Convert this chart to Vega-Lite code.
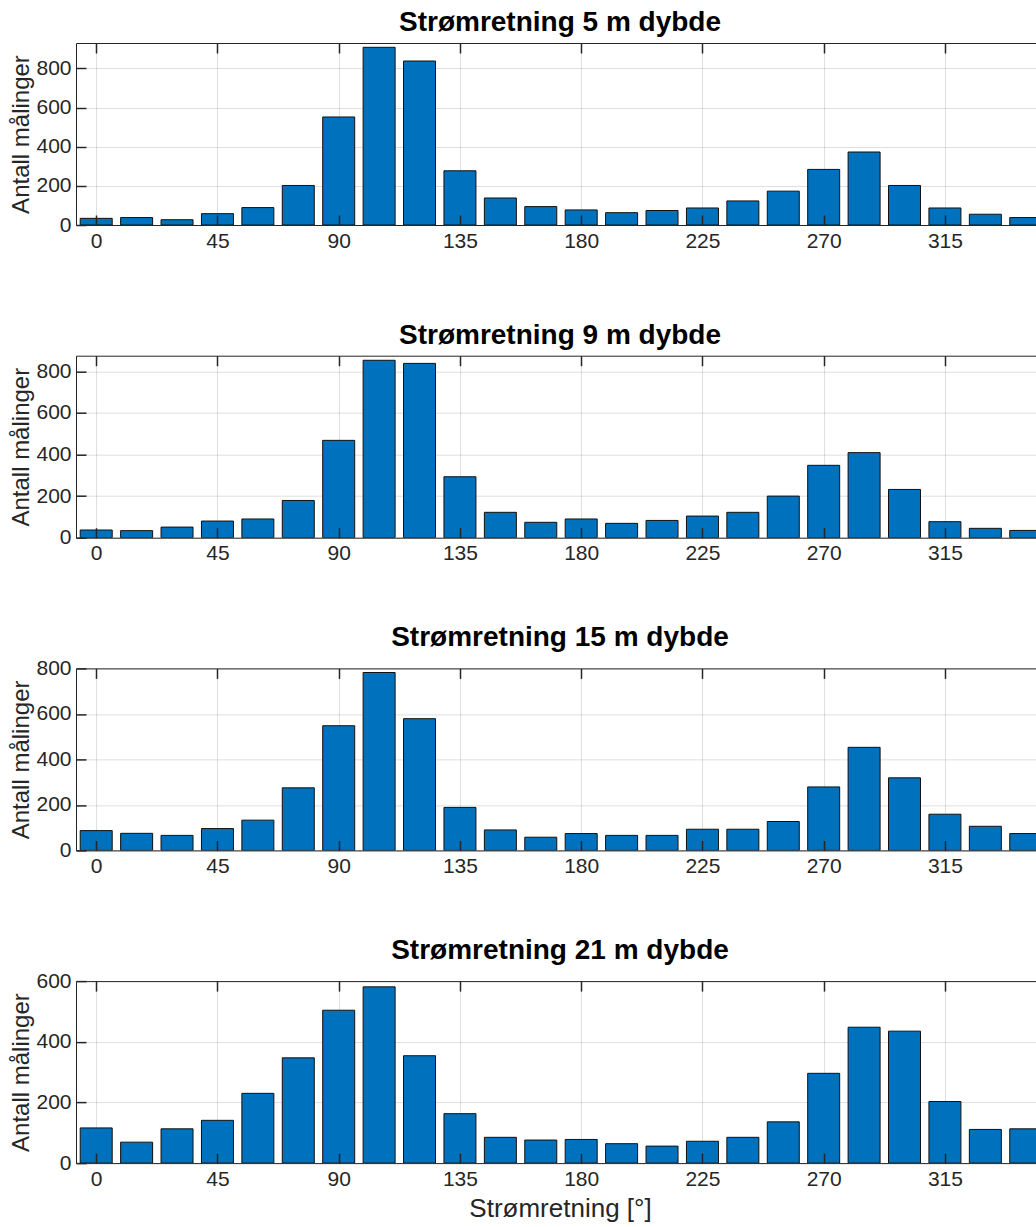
{
  "$schema": "https://vega.github.io/schema/vega-lite/v6.json",
  "padding": {"left": 9, "top": 9, "right": 0, "bottom": 0},
  "bounds": "flush",
  "spacing": 130.7,
  "config": {
    "font": "Liberation Sans",
    "view": {"stroke": null},
    "axis": {
      "labelFontSize": 21, "labelColor": "#262626", "labelOverlap": false, "labelFlush": false,
      "titleFontSize": 24, "titleFontWeight": "normal", "titleColor": "#262626",
      "domainColor": "#262626", "domainWidth": 1, "tickColor": "#262626", "tickWidth": 1.5,
      "gridColor": "#262626", "gridOpacity": 0.15, "gridWidth": 1
    },
    "title": {"fontSize": 28, "fontWeight": "bold", "color": "#000000", "offset": 5, "dx": 4}
  },
  "data": {"values": [
    {"depth": 5, "dir": 0, "n": 34}, {"depth": 5, "dir": 15, "n": 38}, {"depth": 5, "dir": 30, "n": 27}, {"depth": 5, "dir": 45, "n": 58},
    {"depth": 5, "dir": 60, "n": 89}, {"depth": 5, "dir": 75, "n": 202}, {"depth": 5, "dir": 90, "n": 552}, {"depth": 5, "dir": 105, "n": 908},
    {"depth": 5, "dir": 120, "n": 838}, {"depth": 5, "dir": 135, "n": 277}, {"depth": 5, "dir": 150, "n": 138}, {"depth": 5, "dir": 165, "n": 94},
    {"depth": 5, "dir": 180, "n": 77}, {"depth": 5, "dir": 195, "n": 63}, {"depth": 5, "dir": 210, "n": 74}, {"depth": 5, "dir": 225, "n": 87},
    {"depth": 5, "dir": 240, "n": 123}, {"depth": 5, "dir": 255, "n": 173}, {"depth": 5, "dir": 270, "n": 284}, {"depth": 5, "dir": 285, "n": 373},
    {"depth": 5, "dir": 300, "n": 202}, {"depth": 5, "dir": 315, "n": 87}, {"depth": 5, "dir": 330, "n": 55}, {"depth": 5, "dir": 345, "n": 38},
    {"depth": 9, "dir": 0, "n": 37}, {"depth": 9, "dir": 15, "n": 34}, {"depth": 9, "dir": 30, "n": 51}, {"depth": 9, "dir": 45, "n": 80},
    {"depth": 9, "dir": 60, "n": 90}, {"depth": 9, "dir": 75, "n": 179}, {"depth": 9, "dir": 90, "n": 468}, {"depth": 9, "dir": 105, "n": 853},
    {"depth": 9, "dir": 120, "n": 838}, {"depth": 9, "dir": 135, "n": 293}, {"depth": 9, "dir": 150, "n": 122}, {"depth": 9, "dir": 165, "n": 74},
    {"depth": 9, "dir": 180, "n": 90}, {"depth": 9, "dir": 195, "n": 69}, {"depth": 9, "dir": 210, "n": 83}, {"depth": 9, "dir": 225, "n": 104},
    {"depth": 9, "dir": 240, "n": 122}, {"depth": 9, "dir": 255, "n": 200}, {"depth": 9, "dir": 270, "n": 348}, {"depth": 9, "dir": 285, "n": 409},
    {"depth": 9, "dir": 300, "n": 232}, {"depth": 9, "dir": 315, "n": 77}, {"depth": 9, "dir": 330, "n": 45}, {"depth": 9, "dir": 345, "n": 35},
    {"depth": 15, "dir": 0, "n": 87}, {"depth": 15, "dir": 15, "n": 75}, {"depth": 15, "dir": 30, "n": 66}, {"depth": 15, "dir": 45, "n": 96},
    {"depth": 15, "dir": 60, "n": 133}, {"depth": 15, "dir": 75, "n": 275}, {"depth": 15, "dir": 90, "n": 548}, {"depth": 15, "dir": 105, "n": 782},
    {"depth": 15, "dir": 120, "n": 579}, {"depth": 15, "dir": 135, "n": 189}, {"depth": 15, "dir": 150, "n": 90}, {"depth": 15, "dir": 165, "n": 58},
    {"depth": 15, "dir": 180, "n": 74}, {"depth": 15, "dir": 195, "n": 66}, {"depth": 15, "dir": 210, "n": 66}, {"depth": 15, "dir": 225, "n": 93},
    {"depth": 15, "dir": 240, "n": 93}, {"depth": 15, "dir": 255, "n": 127}, {"depth": 15, "dir": 270, "n": 279}, {"depth": 15, "dir": 285, "n": 453},
    {"depth": 15, "dir": 300, "n": 319}, {"depth": 15, "dir": 315, "n": 159}, {"depth": 15, "dir": 330, "n": 106}, {"depth": 15, "dir": 345, "n": 74},
    {"depth": 21, "dir": 0, "n": 116}, {"depth": 21, "dir": 15, "n": 69}, {"depth": 21, "dir": 30, "n": 113}, {"depth": 21, "dir": 45, "n": 141},
    {"depth": 21, "dir": 60, "n": 230}, {"depth": 21, "dir": 75, "n": 347}, {"depth": 21, "dir": 90, "n": 504}, {"depth": 21, "dir": 105, "n": 581},
    {"depth": 21, "dir": 120, "n": 354}, {"depth": 21, "dir": 135, "n": 163}, {"depth": 21, "dir": 150, "n": 85}, {"depth": 21, "dir": 165, "n": 76},
    {"depth": 21, "dir": 180, "n": 78}, {"depth": 21, "dir": 195, "n": 64}, {"depth": 21, "dir": 210, "n": 56}, {"depth": 21, "dir": 225, "n": 72},
    {"depth": 21, "dir": 240, "n": 85}, {"depth": 21, "dir": 255, "n": 136}, {"depth": 21, "dir": 270, "n": 296}, {"depth": 21, "dir": 285, "n": 448},
    {"depth": 21, "dir": 300, "n": 435}, {"depth": 21, "dir": 315, "n": 203}, {"depth": 21, "dir": 330, "n": 111}, {"depth": 21, "dir": 345, "n": 113}
  ]},
  "vconcat": [
    {
      "width": 960, "height": 182,
      "title": "Strømretning 5 m dybde",
      "transform": [{"filter": "datum.depth == 5"}],
      "resolve": {"axis": {"x": "independent", "y": "independent"}},
      "layer": [
        {"mark": {"type": "bar", "clip": true, "width": 32, "fill": "#0072BD", "stroke": "#111111", "strokeWidth": 1},
         "encoding": {
           "x": {"field": "dir", "type": "quantitative", "scale": {"domain": [-7.5, 348.8], "nice": false, "zero": false, "padding": 0},
                 "axis": {"orient": "bottom", "values": [0, 45, 90, 135, 180, 225, 270, 315], "grid": true, "ticks": false, "labelPadding": 5, "domain": true, "title": null, "zindex": 0}},
           "y": {"field": "n", "type": "quantitative", "scale": {"domain": [0, 930], "nice": false},
                 "axis": {"orient": "left", "values": [0, 200, 400, 600, 800], "grid": true, "ticks": false, "labelPadding": 5, "domain": true, "title": "Antall målinger", "titlePadding": 2, "zindex": 0}}
         }},
        {"mark": {"type": "bar", "clip": true, "width": 32, "opacity": 0},
         "encoding": {
           "x": {"field": "dir", "type": "quantitative", "axis": {"orient": "bottom", "values": [0, 45, 90, 135, 180, 225, 270, 315], "grid": false, "labels": false, "domain": false, "ticks": true, "tickSize": -10, "title": null, "zindex": 1}},
           "y": {"field": "n", "type": "quantitative", "axis": {"orient": "left", "values": [0, 200, 400, 600, 800], "grid": false, "labels": false, "domain": false, "ticks": true, "tickSize": -10, "title": null, "zindex": 1}}
         }},
        {"mark": {"type": "bar", "clip": true, "width": 32, "opacity": 0},
         "encoding": {
           "x": {"field": "dir", "type": "quantitative", "axis": {"orient": "top", "values": [0, 45, 90, 135, 180, 225, 270, 315], "grid": false, "labels": false, "domain": true, "ticks": true, "tickSize": -10, "title": null, "zindex": 1}},
           "y": {"field": "n", "type": "quantitative", "axis": null}
         }}
      ]
    },
    {
      "width": 960, "height": 182,
      "title": "Strømretning 9 m dybde",
      "transform": [{"filter": "datum.depth == 9"}],
      "resolve": {"axis": {"x": "independent", "y": "independent"}},
      "layer": [
        {"mark": {"type": "bar", "clip": true, "width": 32, "fill": "#0072BD", "stroke": "#111111", "strokeWidth": 1},
         "encoding": {
           "x": {"field": "dir", "type": "quantitative", "scale": {"domain": [-7.5, 348.8], "nice": false, "zero": false, "padding": 0},
                 "axis": {"orient": "bottom", "values": [0, 45, 90, 135, 180, 225, 270, 315], "grid": true, "ticks": false, "labelPadding": 5, "domain": true, "title": null, "zindex": 0}},
           "y": {"field": "n", "type": "quantitative", "scale": {"domain": [0, 875], "nice": false},
                 "axis": {"orient": "left", "values": [0, 200, 400, 600, 800], "grid": true, "ticks": false, "labelPadding": 5, "domain": true, "title": "Antall målinger", "titlePadding": 2, "zindex": 0}}
         }},
        {"mark": {"type": "bar", "clip": true, "width": 32, "opacity": 0},
         "encoding": {
           "x": {"field": "dir", "type": "quantitative", "axis": {"orient": "bottom", "values": [0, 45, 90, 135, 180, 225, 270, 315], "grid": false, "labels": false, "domain": false, "ticks": true, "tickSize": -10, "title": null, "zindex": 1}},
           "y": {"field": "n", "type": "quantitative", "axis": {"orient": "left", "values": [0, 200, 400, 600, 800], "grid": false, "labels": false, "domain": false, "ticks": true, "tickSize": -10, "title": null, "zindex": 1}}
         }},
        {"mark": {"type": "bar", "clip": true, "width": 32, "opacity": 0},
         "encoding": {
           "x": {"field": "dir", "type": "quantitative", "axis": {"orient": "top", "values": [0, 45, 90, 135, 180, 225, 270, 315], "grid": false, "labels": false, "domain": true, "ticks": true, "tickSize": -10, "title": null, "zindex": 1}},
           "y": {"field": "n", "type": "quantitative", "axis": null}
         }}
      ]
    },
    {
      "width": 960, "height": 182,
      "title": "Strømretning 15 m dybde",
      "transform": [{"filter": "datum.depth == 15"}],
      "resolve": {"axis": {"x": "independent", "y": "independent"}},
      "layer": [
        {"mark": {"type": "bar", "clip": true, "width": 32, "fill": "#0072BD", "stroke": "#111111", "strokeWidth": 1},
         "encoding": {
           "x": {"field": "dir", "type": "quantitative", "scale": {"domain": [-7.5, 348.8], "nice": false, "zero": false, "padding": 0},
                 "axis": {"orient": "bottom", "values": [0, 45, 90, 135, 180, 225, 270, 315], "grid": true, "ticks": false, "labelPadding": 5, "domain": true, "title": null, "zindex": 0}},
           "y": {"field": "n", "type": "quantitative", "scale": {"domain": [0, 800], "nice": false},
                 "axis": {"orient": "left", "values": [0, 200, 400, 600, 800], "grid": true, "ticks": false, "labelPadding": 5, "domain": true, "title": "Antall målinger", "titlePadding": 2, "zindex": 0}}
         }},
        {"mark": {"type": "bar", "clip": true, "width": 32, "opacity": 0},
         "encoding": {
           "x": {"field": "dir", "type": "quantitative", "axis": {"orient": "bottom", "values": [0, 45, 90, 135, 180, 225, 270, 315], "grid": false, "labels": false, "domain": false, "ticks": true, "tickSize": -10, "title": null, "zindex": 1}},
           "y": {"field": "n", "type": "quantitative", "axis": {"orient": "left", "values": [0, 200, 400, 600, 800], "grid": false, "labels": false, "domain": false, "ticks": true, "tickSize": -10, "title": null, "zindex": 1}}
         }},
        {"mark": {"type": "bar", "clip": true, "width": 32, "opacity": 0},
         "encoding": {
           "x": {"field": "dir", "type": "quantitative", "axis": {"orient": "top", "values": [0, 45, 90, 135, 180, 225, 270, 315], "grid": false, "labels": false, "domain": true, "ticks": true, "tickSize": -10, "title": null, "zindex": 1}},
           "y": {"field": "n", "type": "quantitative", "axis": null}
         }}
      ]
    },
    {
      "width": 960, "height": 182,
      "title": "Strømretning 21 m dybde",
      "transform": [{"filter": "datum.depth == 21"}],
      "resolve": {"axis": {"x": "independent", "y": "independent"}},
      "layer": [
        {"mark": {"type": "bar", "clip": true, "width": 32, "fill": "#0072BD", "stroke": "#111111", "strokeWidth": 1},
         "encoding": {
           "x": {"field": "dir", "type": "quantitative", "scale": {"domain": [-7.5, 348.8], "nice": false, "zero": false, "padding": 0},
                 "axis": {"orient": "bottom", "values": [0, 45, 90, 135, 180, 225, 270, 315], "grid": true, "ticks": false, "labelPadding": 5, "domain": true, "title": "Strømretning [°]", "titleFontSize": 26, "titlePadding": 6, "titleX": 484, "zindex": 0}},
           "y": {"field": "n", "type": "quantitative", "scale": {"domain": [0, 600], "nice": false},
                 "axis": {"orient": "left", "values": [0, 200, 400, 600], "grid": true, "ticks": false, "labelPadding": 5, "domain": true, "title": "Antall målinger", "titlePadding": 2, "zindex": 0}}
         }},
        {"mark": {"type": "bar", "clip": true, "width": 32, "opacity": 0},
         "encoding": {
           "x": {"field": "dir", "type": "quantitative", "axis": {"orient": "bottom", "values": [0, 45, 90, 135, 180, 225, 270, 315], "grid": false, "labels": false, "domain": false, "ticks": true, "tickSize": -10, "title": null, "zindex": 1}},
           "y": {"field": "n", "type": "quantitative", "axis": {"orient": "left", "values": [0, 200, 400, 600], "grid": false, "labels": false, "domain": false, "ticks": true, "tickSize": -10, "title": null, "zindex": 1}}
         }},
        {"mark": {"type": "bar", "clip": true, "width": 32, "opacity": 0},
         "encoding": {
           "x": {"field": "dir", "type": "quantitative", "axis": {"orient": "top", "values": [0, 45, 90, 135, 180, 225, 270, 315], "grid": false, "labels": false, "domain": true, "ticks": true, "tickSize": -10, "title": null, "zindex": 1}},
           "y": {"field": "n", "type": "quantitative", "axis": null}
         }}
      ]
    }
  ]
}
